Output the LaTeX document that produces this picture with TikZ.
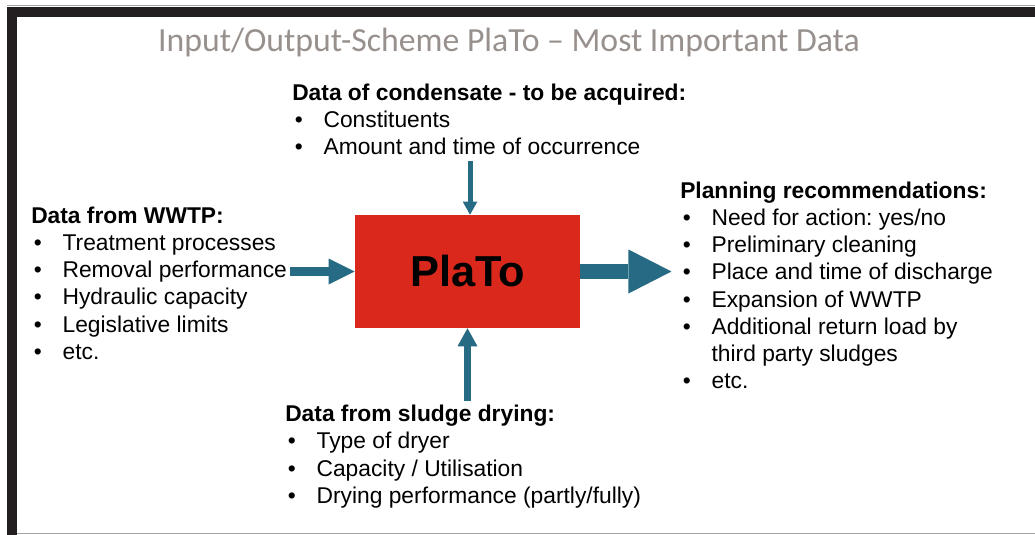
\documentclass[tikz,border=0pt]{standalone}
\usepackage{fontspec}
\setmainfont{Liberation Sans}
\newfontfamily\headfont{Carlito}
\usetikzlibrary{arrows.meta}
\frenchspacing

\definecolor{flowblue}{RGB}{38,106,131}
\definecolor{platored}{RGB}{218,41,28}
\definecolor{headgray}{RGB}{151,144,140}
\definecolor{framedark}{RGB}{35,31,32}
\definecolor{frameline}{RGB}{165,165,165}

% bullet and hanging indent for the lists
\newcommand\bul{\makebox[23.5pt][l]{\hspace{2pt}\textbullet}}
\newcommand\cont{\hspace*{23.5pt}}

\tikzset{
  lst/.style={anchor=north west, align=left, inner sep=0pt,
    font=\fontsize{17.1}{20.4}\selectfont},
  flow/.style n args={3}{draw=flowblue, line width=#1,
    -{Triangle[length=#2, width=#3, line width=0pt]}},
}

\begin{document}
\begin{tikzpicture}[x=0.75pt, y=-0.75pt]
  \useasboundingbox (0,0) rectangle (1035,535);
  % slide frame
  \fill[frameline] (7,5) rectangle (1035,6.5);
  \fill[framedark] (7,7) rectangle (1035,17);
  \fill[framedark] (7,7) rectangle (17,535);
  \fill[frameline] (17,532.5) rectangle (1035,534);

  \node[anchor=base, text=headgray, inner sep=0pt,
    font=\headfont\fontsize{25.3}{30}\selectfont] (title) at (509,52)
    {Input/Output-Scheme PlaTo – Most Important Data};

  % the tool in the middle
  \node[fill=platored, minimum width=168.75pt, minimum height=84.75pt,
    font=\bfseries\fontsize{32.5}{36}\selectfont] (plato) at (467.5,271.5) {PlaTo};

  % inputs and output
  \node[lst] (cond) at (292,83.5) {\textbf{Data of condensate - to be acquired:}\\
    \bul Constituents\\
    \bul Amount and time of occurrence};
  \node[lst] (wwtp) at (31,206.5) {\textbf{Data from WWTP:}\\
    \bul Treatment processes\\
    \bul Removal performance\\
    \bul Hydraulic capacity\\
    \bul Legislative limits\\
    \bul etc.};
  \node[lst] (sludge) at (285,405) {\textbf{Data from sludge drying:}\\
    \bul Type of dryer\\
    \bul Capacity / Utilisation\\
    \bul Drying performance (partly/fully)};
  \node[lst] (plan) at (680,181.5) {\textbf{Planning recommendations:}\\
    \bul Need for action: yes/no\\
    \bul Preliminary cleaning\\
    \bul Place and time of discharge\\
    \bul Expansion of WWTP\\
    \bul Additional return load by\\
    \cont third party sludges\\
    \bul etc.};

  \draw[flow={3.75pt}{9.75pt}{10.9pt}, shorten <=4pt]
    ([xshift=1.9pt]plato.north |- cond.south) -- ([xshift=1.9pt]plato.north);
  \draw[flow={6.75pt}{19.5pt}{19.5pt}, shorten <=2.5pt] (wwtp.east |- plato) -- (plato.west);
  \draw[flow={5.25pt}{13.5pt}{15pt}, shorten <=3pt] (plato.south |- sludge.north) -- (plato.south);
  \draw[flow={11.25pt}{32.25pt}{33pt}, shorten >=6.4pt] (plato.east) -- (plan.west |- plato);
\end{tikzpicture}
\end{document}
